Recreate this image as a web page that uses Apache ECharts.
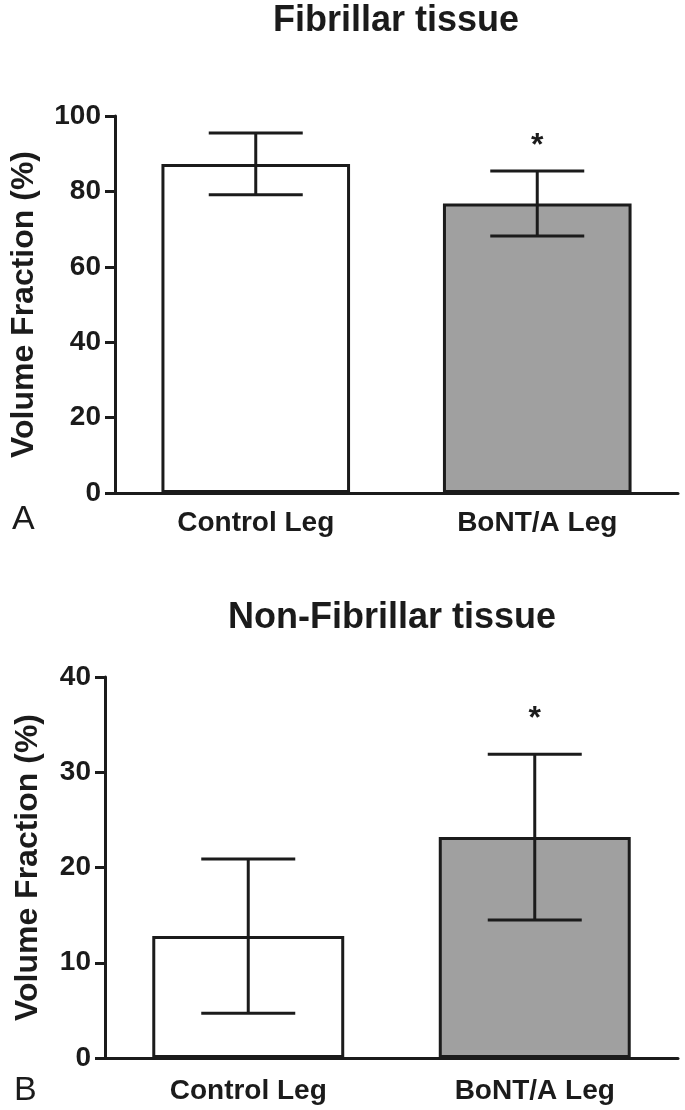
<!DOCTYPE html>
<html>
<head>
<meta charset="utf-8">
<script src="https://cdn.jsdelivr.net/npm/echarts@6/dist/echarts.min.js"></script>
<style>
  html, body { margin: 0; padding: 0; background: #fff; }
  #chart { width: 685px; height: 1110px; }
</style>
</head>
<body>
<div id="chart"></div>
<script>
// data
var categories = ["Control Leg", "BoNT/A Leg"];
var fibrillarMean = [87.3, 76.8];
var fibrillarSD = [8.2, 8.6];
var nonFibrillarMean = [12.8, 23.2];
var nonFibrillarSD = [8.1, 8.7];
var significance = ["", "*"];
var fibrillarTicks = { min: 0, max: 100, interval: 20 };
var nonFibrillarTicks = { min: 0, max: 40, interval: 10 };

var FONT = "'Liberation Sans', Arial, sans-serif";
var INK = "#1b1b1b";
var barColors = ["#ffffff", "#a0a0a0"];

function barSeries(idx, means) {
  return {
    type: "bar",
    xAxisIndex: idx,
    yAxisIndex: idx,
    barWidth: "67%",
    silent: true,
    data: means.map(function (v, i) {
      return {
        value: v,
        itemStyle: { color: barColors[i], borderColor: INK, borderWidth: 3 }
      };
    }),
    z: 2
  };
}

// error bars + significance star
function errorSeries(idx, means, sds, starGap) {
  return {
    type: "custom",
    xAxisIndex: idx,
    yAxisIndex: idx,
    silent: true,
    z: 5,
    data: means.map(function (m, i) { return [i, m, sds[i]]; }),
    renderItem: function (params, api) {
      var c = api.value(0), m = api.value(1), s = api.value(2);
      var hi = api.coord([c, m + s]);
      var lo = api.coord([c, m - s]);
      var half = 47;
      var st = { stroke: INK, lineWidth: 3 };
      var kids = [
        { type: "line", shape: { x1: hi[0], y1: hi[1], x2: lo[0], y2: lo[1] }, style: st },
        { type: "line", shape: { x1: hi[0] - half, y1: hi[1], x2: hi[0] + half, y2: hi[1] }, style: st },
        { type: "line", shape: { x1: lo[0] - half, y1: lo[1], x2: lo[0] + half, y2: lo[1] }, style: st }
      ];
      var mark = significance[params.dataIndex];
      if (mark) {
        kids.push({
          type: "text",
          x: hi[0],
          y: hi[1] - starGap,
          style: {
            text: mark, fill: INK, font: "bold 32px " + FONT,
            textAlign: "center", textVerticalAlign: "middle"
          }
        });
      }
      return { type: "group", children: kids };
    }
  };
}

function xAxis(idx, margin) {
  return {
    type: "category",
    gridIndex: idx,
    data: categories,
    axisLine: { lineStyle: { color: INK, width: 3 } },
    axisTick: { alignWithLabel: true, length: 10, lineStyle: { color: INK, width: 3 } },
    axisLabel: { color: INK, fontFamily: FONT, fontWeight: "bold", fontSize: 28, margin: margin },
    splitLine: { show: false }
  };
}

function yAxis(idx, ticks, gap) {
  return {
    type: "value",
    gridIndex: idx,
    min: ticks.min,
    max: ticks.max,
    interval: ticks.interval,
    name: "Volume Fraction (%)",
    nameLocation: "middle",
    nameGap: gap,
    nameTextStyle: { color: INK, fontFamily: FONT, fontWeight: "bold", fontSize: 32 },
    axisLine: { show: true, lineStyle: { color: INK, width: 3 } },
    axisTick: { show: true, length: 10, lineStyle: { color: INK, width: 3 } },
    axisLabel: { color: INK, fontFamily: FONT, fontWeight: "bold", fontSize: 28, margin: 14 },
    splitLine: { show: false }
  };
}

var chart = echarts.init(document.getElementById("chart"));

var option = {
  backgroundColor: "#ffffff",
  animation: false,
  grid: [
    { left: 113, right: 7, top: 116, height: 377 },
    { left: 105, right: 7, top: 677, height: 381 }
  ],
  xAxis: [xAxis(0, 16), xAxis(1, 19)],
  yAxis: [yAxis(0, fibrillarTicks, 75), yAxis(1, nonFibrillarTicks, 61)],
  series: [
    barSeries(0, fibrillarMean),
    errorSeries(0, fibrillarMean, fibrillarSD, 25),
    barSeries(1, nonFibrillarMean),
    errorSeries(1, nonFibrillarMean, nonFibrillarSD, 35)
  ],
  graphic: [
    { type: "text", x: 396, y: 21, style: { text: "Fibrillar tissue", fill: INK, font: "bold 36px " + FONT, textAlign: "center", textVerticalAlign: "middle" } },
    { type: "text", x: 392, y: 618, style: { text: "Non-Fibrillar tissue", fill: INK, font: "bold 36px " + FONT, textAlign: "center", textVerticalAlign: "middle" } },
    { type: "text", x: 12, y: 520, style: { text: "A", fill: INK, font: "34px " + FONT, textAlign: "left", textVerticalAlign: "middle" } },
    { type: "text", x: 14, y: 1091, style: { text: "B", fill: INK, font: "34px " + FONT, textAlign: "left", textVerticalAlign: "middle" } }
  ]
};

chart.setOption(option);
</script>
</body>
</html>
